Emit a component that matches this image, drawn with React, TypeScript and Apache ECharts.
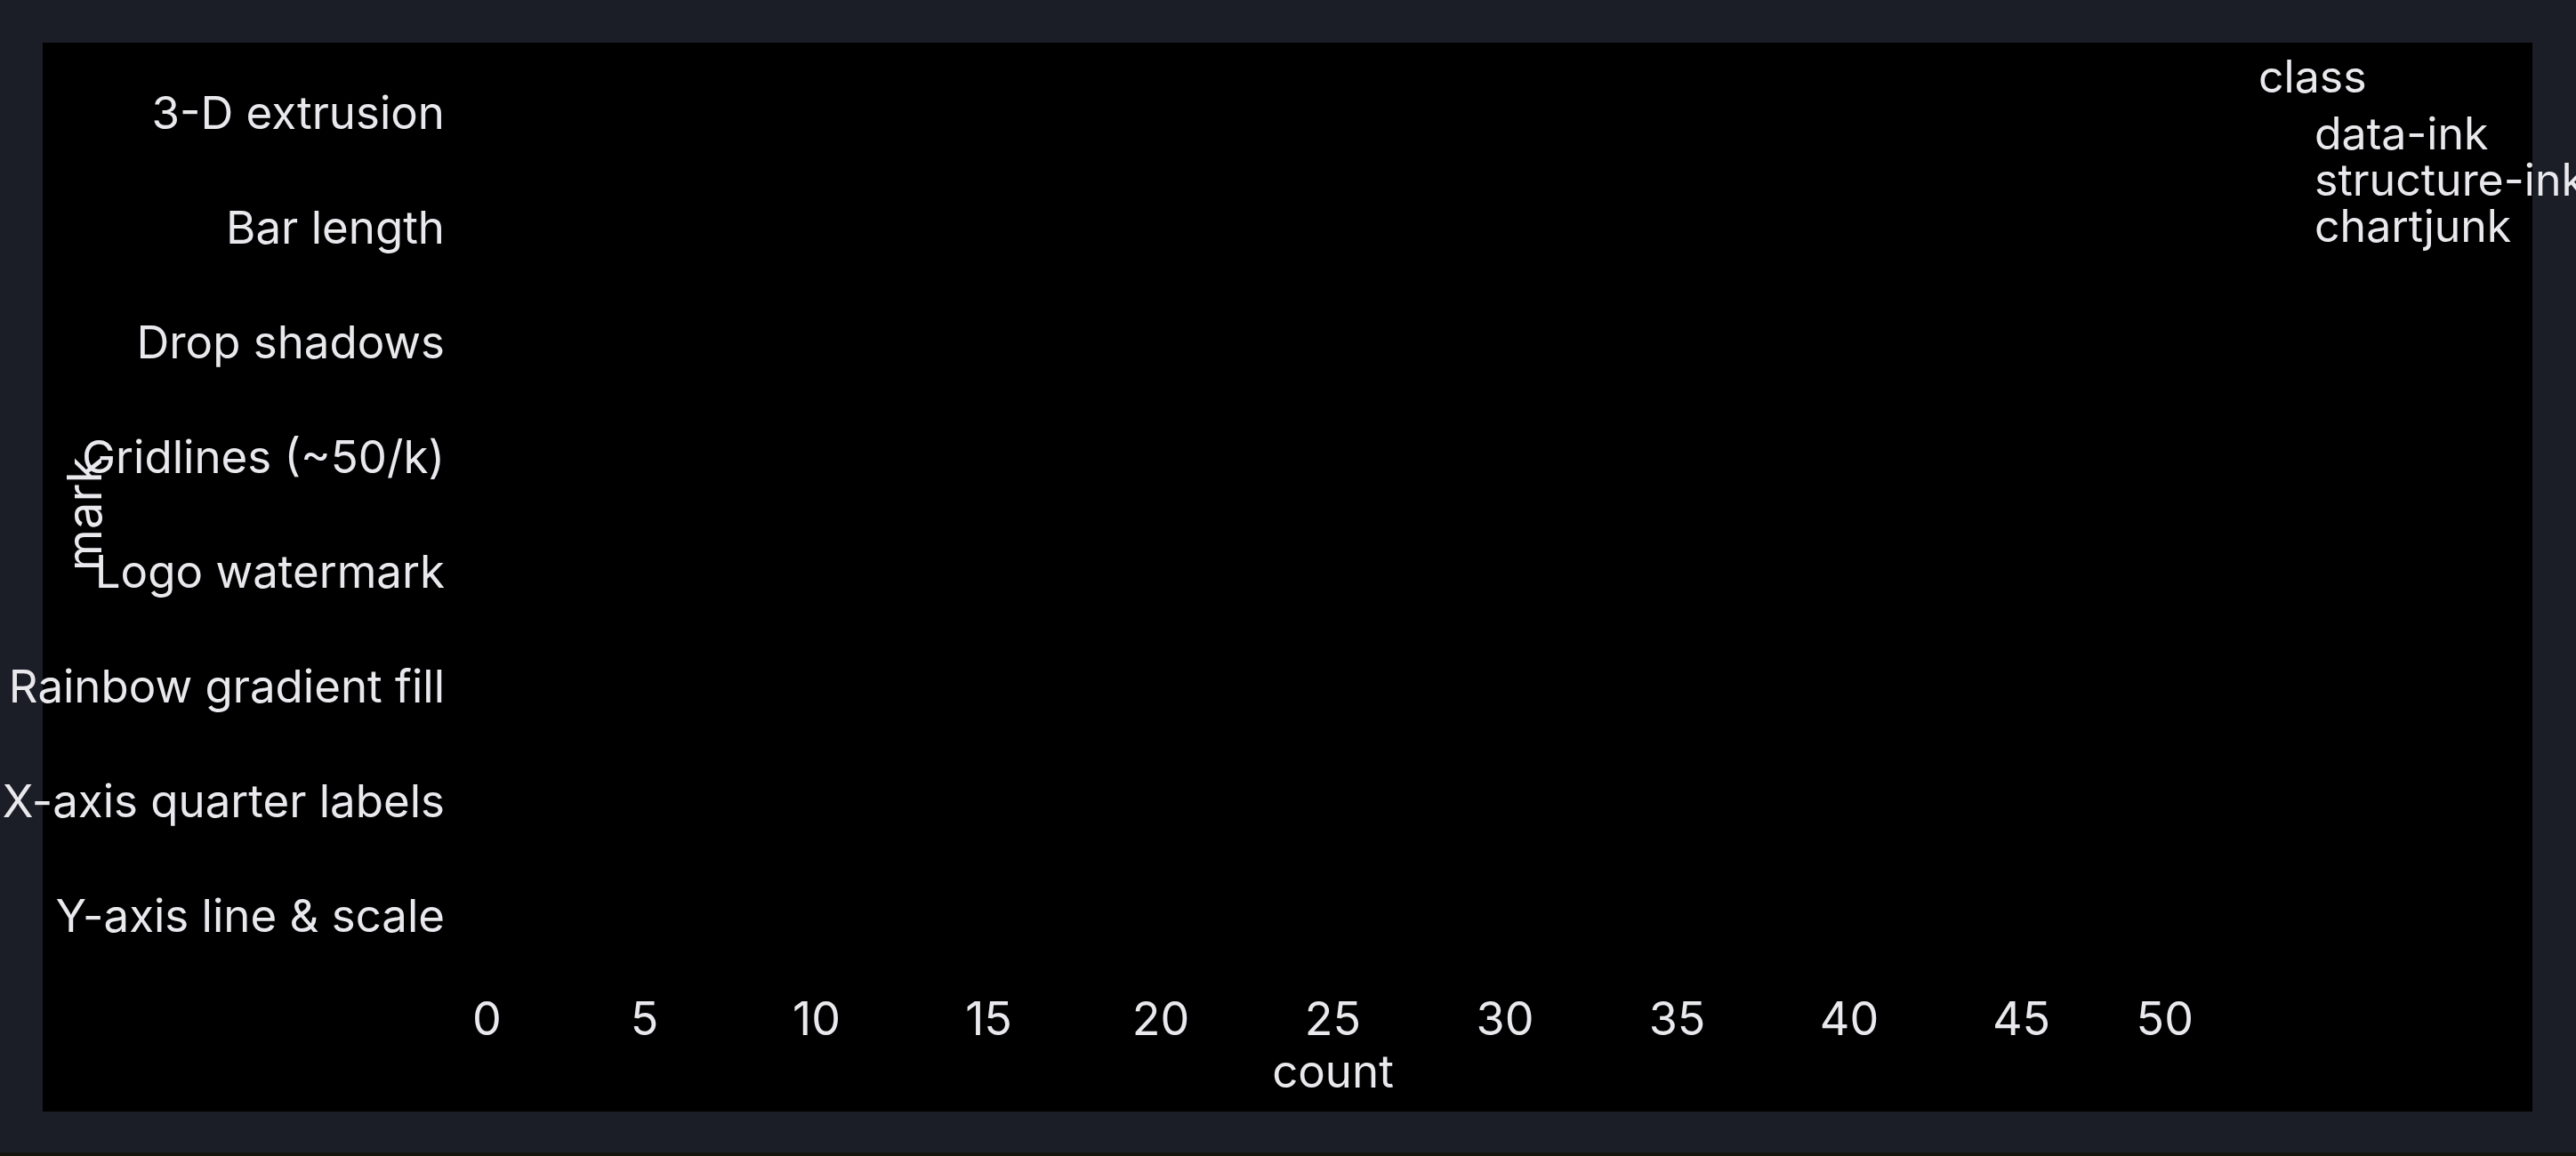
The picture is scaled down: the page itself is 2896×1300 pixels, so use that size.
import { useEffect, useRef } from 'react'
import * as echarts from 'echarts'

// categories, top to bottom
const marks = [
  '3-D extrusion',
  'Bar length',
  'Drop shadows',
  'Gridlines (~50/k)',
  'Logo watermark',
  'Rainbow gradient fill',
  'X-axis quarter labels',
  'Y-axis line & scale',
]

const classes = ['data-ink', 'structure-ink', 'chartjunk']

// the bars are drawn black on black in the reference, so no length can be read
const dataInk: (number | null)[] = [null, null, null, null, null, null, null, null]
const structureInk: (number | null)[] = [null, null, null, null, null, null, null, null]
const chartjunk: (number | null)[] = [null, null, null, null, null, null, null, null]

const countTicks = [0, 5, 10, 15, 20, 25, 30, 35, 40, 45, 50]

const FONT = 'Inter, "Noto Sans", sans-serif'
const TEXT = '#e8e8ed'

export default function App() {
  const chartRef = useRef<HTMLDivElement>(null)

  useEffect(() => {
    document.body.style.margin = '0'
    document.body.style.overflow = 'hidden'
    if (!chartRef.current) return
    const chart = echarts.init(chartRef.current, undefined, { renderer: 'svg' })

    const values = [dataInk, structureInk, chartjunk]

    chart.setOption({
      animation: false,
      backgroundColor: 'transparent',
      textStyle: { fontFamily: FONT },
      title: {
        text: 'class',
        left: 2534,
        top: 56,
        textStyle: { color: TEXT, fontSize: 50, fontWeight: 'normal', fontFamily: FONT },
      },
      legend: {
        orient: 'vertical',
        left: 2559,
        top: 120,
        itemGap: 2,
        itemWidth: 36,
        itemHeight: 30,
        icon: 'circle',
        data: classes,
        textStyle: { color: TEXT, fontSize: 50, fontFamily: FONT },
      },
      grid: {
        left: 531,
        right: 430,
        top: 62,
        bottom: 206,
        containLabel: false,
        outerBoundsMode: 'none',
      },
      xAxis: {
        type: 'value',
        min: countTicks[0],
        max: countTicks[countTicks.length - 1],
        interval: countTicks[1] - countTicks[0],
        name: 'count',
        nameLocation: 'middle',
        nameGap: 85,
        nameMoveOverlap: false,
        nameTextStyle: { color: TEXT, fontSize: 51, fontFamily: FONT },
        axisLine: { show: false },
        axisTick: { show: false },
        splitLine: { show: false },
        axisLabel: {
          color: TEXT,
          fontSize: 52,
          fontFamily: FONT,
          margin: 25,
          alignMinLabel: 'left',
          alignMaxLabel: 'right',
        },
      },
      yAxis: {
        type: 'category',
        data: marks,
        inverse: true,
        name: 'mark',
        nameLocation: 'middle',
        nameGap: 410,
        nameMoveOverlap: false,
        nameTextStyle: { color: TEXT, fontSize: 54, fontFamily: FONT },
        axisLine: { show: false },
        axisTick: { show: false },
        splitLine: { show: false },
        axisLabel: { color: TEXT, fontSize: 51, fontFamily: FONT, margin: 31 },
      },
      series: classes.map((name, i) => ({
        name,
        type: 'bar',
        stack: 'total',
        barCategoryGap: '10%',
        itemStyle: { color: '#000000' },
        data: values[i],
      })),
    })

    return () => {
      chart.dispose()
    }
  }, [])

  return (
    <div style={{ position: 'relative', width: 2896, height: 1300, background: '#1b1e26', overflow: 'hidden' }}>
      <div style={{ position: 'absolute', left: 48, top: 48, width: 2799, height: 1202, background: '#000000' }} />
      <div style={{ position: 'absolute', left: 0, top: 1296, width: 2896, height: 4, background: '#16160f' }} />
      <div ref={chartRef} style={{ position: 'absolute', left: 0, top: 0, width: 2896, height: 1300 }} />
    </div>
  )
}
